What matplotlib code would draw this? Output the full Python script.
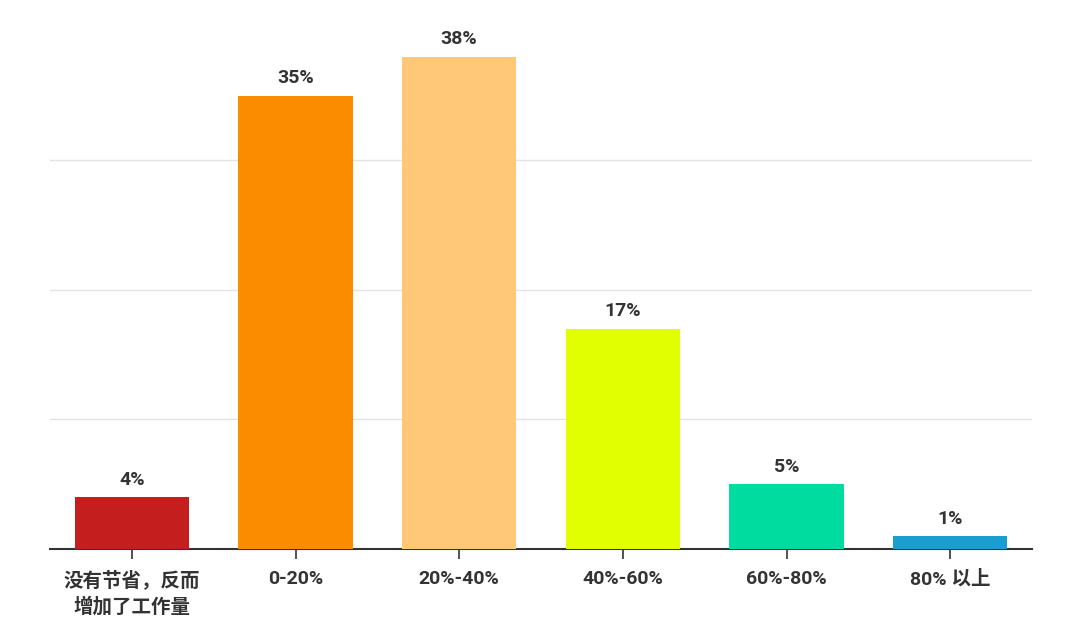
import matplotlib
matplotlib.use('Agg')
import matplotlib.pyplot as plt

plt.rcParams['font.family'] = ['Roboto', 'Noto Sans CJK SC', 'DejaVu Sans']

categories = ['没有节省，反而\n增加了工作量', '0-20%', '20%-40%', '40%-60%', '60%-80%', '80% 以上']
values = [4, 35, 38, 17, 5, 1]
colors = ['#c41e1e', '#fb8c00', '#ffc878', '#e1ff00', '#00dba0', '#1a9ed0']

fig = plt.figure(figsize=(10.8, 6.38), dpi=100)
ax = fig.add_axes([50 / 1080, 89 / 638, 982 / 1080, 544 / 638])

x = list(range(len(categories)))
bars = ax.bar(x, values, width=0.7, color=colors, zorder=3)
for b, v in zip(bars, values):
    ax.text(b.get_x() + b.get_width() / 2, v + 0.65, f'{v}%', ha='center', va='bottom',
            fontsize=14, fontweight='bold', color='#333333')

ax.set_xlim(-0.5, 5.5)
ax.set_ylim(0, 42)
ax.set_yticks([10, 20, 30])
ax.yaxis.grid(True, color='#e3e3e3', linewidth=1, zorder=0)
ax.tick_params(axis='y', left=False, labelleft=False)
ax.set_xticks(x)
ax.set_xticklabels(categories, fontsize=14, fontweight='bold', color='#333333', linespacing=1.45)
ax.tick_params(axis='x', length=7, width=1.2, color='#333333', pad=8)
for s in ['top', 'right', 'left']:
    ax.spines[s].set_visible(False)
ax.spines['bottom'].set_color('#333333')
ax.spines['bottom'].set_linewidth(1.5)

fig.savefig('out.png')
plt.close(fig)
